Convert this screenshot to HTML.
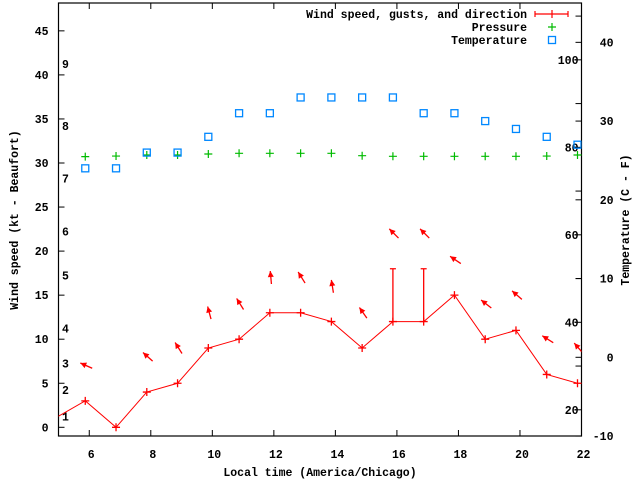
<!DOCTYPE html>
<html><head><meta charset="utf-8"><style>
body{margin:0;background:#fff}
svg{display:block}
text{font-family:"Liberation Mono",monospace;font-weight:bold;font-size:11.5px;fill:#000}
</style></head><body>
<svg id="chart" width="640" height="480" xmlns="http://www.w3.org/2000/svg">
<g id="g-grid"></g>
<g id="g-data"></g>
<text x="320" y="476" text-anchor="middle">Local time (America/Chicago)</text>
<text transform="translate(18,220) rotate(-90)" text-anchor="middle">Wind speed (kt - Beaufort)</text>
<text transform="translate(629,220) rotate(-90)" text-anchor="middle">Temperature (C - F)</text>
<g>
<text x="527" y="18" text-anchor="end">Wind speed, gusts, and direction</text>
<text x="527" y="31" text-anchor="end">Pressure</text>
<text x="527" y="44" text-anchor="end">Temperature</text>
<path d="M535 14H568M535 11V17M568 11V17M552 10V18" stroke="#f00" stroke-width="1.2" fill="none"/>
<path d="M548 27H556M552 23V31" stroke="#0b0" stroke-width="1.2"/>
<rect x="548.5" y="36.5" width="7" height="7" fill="none" stroke="#08f" stroke-width="1.3"/>
</g>
</svg>
<script>
const hours = [4.87,5.87,6.87,7.87,8.87,9.87,10.87,11.87,12.87,13.87,14.87,15.87,16.87,17.87,18.87,19.87,20.87,21.87];
const windSpeed = [1,3,0,4,5,9,10,13,13,12,9,12,12,15,10,11,6,5];
const windGust = [null,null,null,null,null,null,null,null,null,null,null,18,18,null,null,null,null,null];
const windDir = [null,114,null,132,148,165,148,175,148,171,145,135,135,124,128,131,122,139];
const pressure = [null,30.72,30.79,30.91,30.91,31.02,31.1,31.1,31.1,31.1,30.83,30.76,30.76,30.76,30.76,30.76,30.79,30.91];
const tempC = [null,24,24,26,26,28,31,31,33,33,33,33,31,31,30,29,28,27];
const xTicks = [6,8,10,12,14,16,18,20,22];
const yTicks = [0,5,10,15,20,25,30,35,40,45];
const y2Ticks = [-10,0,10,20,30,40];
const fTicks = [20,40,60,80,100];
const beaufortKt = [1,4,7,11,17,22,28,34,41];

const L=58.5,R=581.5,T=3,B=436;
const X=h=>L+(h-5)*(R-L)/17;
const Y=v=>427.3-v*8.81;
const Y2=c=>357.3-c*7.874;
const NS='http://www.w3.org/2000/svg';
const grid=document.getElementById('g-grid'),data=document.getElementById('g-data');
function mk(tag,attrs,parent){const e=document.createElementNS(NS,tag);for(const k in attrs)e.setAttribute(k,attrs[k]);parent.appendChild(e);return e;}

mk('rect',{x:L,y:T,width:R-L,height:B-T,fill:'none',stroke:'#000','stroke-width':1.2},grid);
xTicks.forEach(t=>{const x=X(t);
 const p=mk('path',{d:`M${x} ${B}v-6M${x} ${T}v6`,stroke:'#000'},grid);
 
 const tx=mk('text',{x:x+2,y:B+22,'text-anchor':'middle'},grid);tx.textContent=t;
 });
yTicks.forEach(t=>{const y=Y(t);
 const p=mk('path',{d:`M${L} ${y}h6`,stroke:'#000'},grid);
 
 const tx=mk('text',{x:L-10,y:y+4,'text-anchor':'end'},grid);tx.textContent=t;
 });
y2Ticks.forEach(t=>{const y=Y2(t);
 const p=mk('path',{d:`M${R} ${y}h-6`,stroke:'#000'},grid);
 
 const tx=mk('text',{x:R+32,y:y+4,'text-anchor':'end'},grid);tx.textContent=t;
 });
for(let f=20;f<=110;f+=10){const y=Y2((f-32)*5/9);
 const p=mk('path',{d:`M${R} ${y}h-6`,stroke:'#000'},grid);
 }
fTicks.forEach(f=>{const y=Y2((f-32)*5/9);
 const tx=mk('text',{x:R-3,y:y+4,'text-anchor':'end'},grid);tx.textContent=f;
 });
beaufortKt.forEach((k,i)=>{
 const tx=mk('text',{x:62,y:Y(k)+2,'text-anchor':'start'},grid);tx.textContent=i+1;
 });

const cp=mk('clipPath',{id:'clip'},data);mk('rect',{x:L,y:T,width:R-L,height:B-T},cp);
const g=mk('g',{'clip-path':'url(#clip)'},data);
// wind line
let d='';hours.forEach((h,i)=>{d+=(i?'L':'M')+X(h)+' '+Y(windSpeed[i]);});
const wl=mk('path',{d:d,stroke:'#f00',fill:'none','stroke-width':1},g);

hours.forEach((h,i)=>{const x=X(h),y=Y(windSpeed[i]);
 const p=mk('path',{d:`M${x-4} ${y}h8M${x} ${y-4}v8`,stroke:'#f00','stroke-width':1.3},g);
 
 if(windGust[i]!=null){const yg=Y(windGust[i]);
  const e=mk('path',{d:`M${x} ${y}V${yg}M${x-3} ${yg}h6`,stroke:'#f00','stroke-width':1.3},g);
  }
 if(windDir[i]!=null){const top=Math.max(windSpeed[i],windGust[i]||0)+4;
  const cx=x+1,cy=Y(top),b=(windDir[i]+180)*Math.PI/180,len=13;
  const ux=Math.sin(b),uy=-Math.cos(b);
  const hx=cx+ux*len/2,hy=cy+uy*len/2,tx=cx-ux*len/2,ty=cy-uy*len/2;
  const a=mk('path',{d:`M${tx} ${ty}L${hx} ${hy}`,stroke:'#f00','stroke-width':1.3},g);
  
  const px=-uy,py=ux,bx=hx-ux*6,by=hy-uy*6;
  const hd=mk('path',{d:`M${hx} ${hy}L${bx+px*3} ${by+py*3}L${bx-px*3} ${by-py*3}Z`,fill:'#f00'},g);
  }
});
hours.forEach((h,i)=>{if(pressure[i]==null)return;const x=X(h),y=Y(pressure[i]);
 const p=mk('path',{d:`M${x-4} ${y}h8M${x} ${y-4}v8`,stroke:'#0b0','stroke-width':1.2},g);
 });
hours.forEach((h,i)=>{if(tempC[i]==null)return;const x=X(h),y=Y2(tempC[i]);
 const r=mk('rect',{x:x-3.5,y:y-3.5,width:7,height:7,fill:'none',stroke:'#08f','stroke-width':1.3},g);
 });
</script>
</body></html>
